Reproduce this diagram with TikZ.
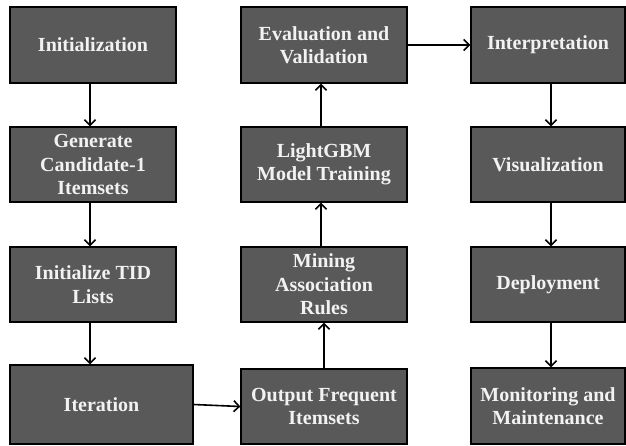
\documentclass[tikz,border=0pt]{standalone}
\usepackage{fontspec}
\setmainfont{Liberation Serif}
\usetikzlibrary{arrows.meta}
\definecolor{boxgray}{HTML}{595959}
\definecolor{textwhite}{HTML}{F2F2F2}
\tikzset{
  box/.style={draw=black, line width=1.3pt, fill=boxgray, text=textwhite,
    font=\bfseries\fontsize{20}{23.5}\selectfont, align=center, inner sep=0pt},
  conn/.style={line width=1.6pt, -{Straight Barb[length=5.5pt,width=11pt,line width=1.6pt]}}
}
\begin{document}
\begin{tikzpicture}[x=1pt,y=-1pt]
\useasboundingbox (0,0) rectangle (626,445);
\node[box, minimum width=166pt, minimum height=76pt] (init) at (93,45) {Initialization};
\node[box, minimum width=166pt, minimum height=75pt] (gen) at (93,164.5) {Generate\\Candidate-1\\Itemsets};
\node[box, minimum width=166pt, minimum height=75pt] (tid) at (93,284.5) {Initialize TID\\Lists};
\node[box, minimum width=183pt, minimum height=79pt] (iter) at (101.5,404.5) {Iteration};
\node[box, minimum width=166pt, minimum height=75pt] (out) at (324,406.5) {Output Frequent\\Itemsets};
\node[box, minimum width=166pt, minimum height=75pt] (mine) at (324,284.5) {Mining\\Association\\Rules};
\node[box, minimum width=166pt, minimum height=75pt] (lgbm) at (324,164.5) {LightGBM\\Model Training};
\node[box, minimum width=166pt, minimum height=76pt] (eval) at (324,45) {Evaluation and\\Validation};
\node[box, minimum width=154pt, minimum height=76pt] (interp) at (548,45) {Interpretation};
\node[box, minimum width=154pt, minimum height=75pt] (vis) at (548,164.5) {Visualization};
\node[box, minimum width=154pt, minimum height=75pt] (dep) at (548,284.5) {Deployment};
\node[box, minimum width=154pt, minimum height=76pt] (mon) at (548,406) {Monitoring and\\Maintenance};

\draw[conn] ([xshift=-3pt]init.south) -- ([xshift=-3pt]gen.north);
\draw[conn] ([xshift=-3pt]gen.south) -- ([xshift=-3pt]tid.north);
\draw[conn] ([xshift=-3pt]tid.south) -- ([xshift=-11.5pt]iter.north);
\draw[conn] (iter.east) -- (out.west);
\draw[conn] (out.north) -- (mine.south);
\draw[conn] ([xshift=-3pt]mine.north) -- ([xshift=-3pt]lgbm.south);
\draw[conn] ([xshift=-3pt]lgbm.north) -- ([xshift=-3pt]eval.south);
\draw[conn] (eval.east) -- (interp.west);
\draw[conn] ([xshift=3pt]interp.south) -- ([xshift=3pt]vis.north);
\draw[conn] ([xshift=3pt]vis.south) -- ([xshift=3pt]dep.north);
\draw[conn] ([xshift=3pt]dep.south) -- ([xshift=3pt]mon.north);
\end{tikzpicture}
\end{document}
